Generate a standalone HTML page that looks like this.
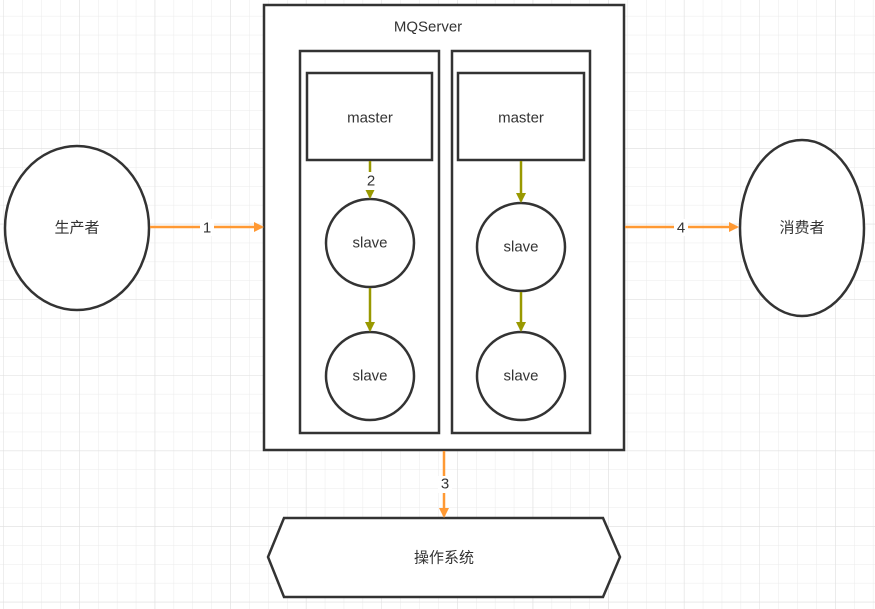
<!DOCTYPE html>
<html><head><meta charset="utf-8"><style>
html,body{margin:0;padding:0;width:875px;height:609px;overflow:hidden;background:#fff;}
svg{display:block;}
text{font-family:"Liberation Sans","Noto Sans CJK SC",sans-serif;fill:#333;font-size:15px;text-anchor:middle;dominant-baseline:central;}
</style></head><body>
<svg width="875" height="609" viewBox="0 0 875 609">
<defs>
<pattern id="g" x="3.5" y="-3" width="18.9" height="18.9" patternUnits="userSpaceOnUse">
<path d="M0 0H18.9M0 0V18.9" stroke="#ebebeb" stroke-width="1" fill="none"/>
</pattern>
<pattern id="G" x="3.5" y="-3" width="75.6" height="75.6" patternUnits="userSpaceOnUse">
<path d="M0 0H75.6M0 0V75.6" stroke="#dedede" stroke-width="1" fill="none"/>
</pattern>
<marker id="ao" markerWidth="10" markerHeight="10" refX="8" refY="5" orient="auto" markerUnits="userSpaceOnUse"><path d="M0 0L10 5L0 10Z" fill="#ff9933"/></marker>
<marker id="ag" markerWidth="10" markerHeight="10" refX="8" refY="5" orient="auto" markerUnits="userSpaceOnUse"><path d="M0 0L10 5L0 10Z" fill="#999900"/></marker>
</defs>
<rect width="875" height="609" fill="url(#g)"/>
<rect width="875" height="609" fill="url(#G)"/>
<g fill="#fff" stroke="#333" stroke-width="2.5">
<rect x="264" y="5" width="360" height="445"/>
<rect x="300" y="51" width="139" height="382"/>
<rect x="452" y="51" width="138" height="382"/>
<rect x="307" y="73" width="125" height="87"/>
<rect x="458" y="73" width="126" height="87"/>
<ellipse cx="370" cy="243" rx="44" ry="44"/>
<ellipse cx="370" cy="376" rx="44" ry="44"/>
<ellipse cx="521" cy="247" rx="44" ry="44"/>
<ellipse cx="521" cy="376" rx="44" ry="44"/>
<ellipse cx="77" cy="228" rx="72" ry="82"/>
<ellipse cx="802" cy="228" rx="62" ry="88"/>
<path d="M284 518H603L620 557L603 597H284L268 557Z"/>
</g>
<g stroke="#ff9933" stroke-width="2.5" fill="none">
<line x1="150" y1="227" x2="262" y2="227" marker-end="url(#ao)"/>
<line x1="625" y1="227" x2="737" y2="227" marker-end="url(#ao)"/>
<line x1="444" y1="451" x2="444" y2="516" marker-end="url(#ao)"/>
</g>
<g stroke="#999900" stroke-width="2.5" fill="none">
<line x1="370" y1="161" x2="370" y2="197" marker-end="url(#ag)"/>
<line x1="370" y1="288" x2="370" y2="330" marker-end="url(#ag)"/>
<line x1="521" y1="161" x2="521" y2="201" marker-end="url(#ag)"/>
<line x1="521" y1="292" x2="521" y2="330" marker-end="url(#ag)"/>
</g>
<g fill="#fff">
<rect x="200" y="219" width="14" height="17"/>
<rect x="674" y="219" width="14" height="17"/>
<rect x="438" y="476" width="14" height="17"/>
<rect x="363" y="172" width="14" height="18"/>
</g>
<text x="428" y="27">MQServer</text>
<text x="370" y="118">master</text>
<text x="521" y="118">master</text>
<text x="370" y="243">slave</text>
<text x="370" y="376">slave</text>
<text x="521" y="247">slave</text>
<text x="521" y="376">slave</text>
<text x="77" y="228">生产者</text>
<text x="802" y="228">消费者</text>
<text x="444" y="558">操作系统</text>
<text x="207" y="228">1</text>
<text x="681" y="228">4</text>
<text x="445" y="484">3</text>
<text x="371" y="181">2</text>
</svg>
</body></html>
